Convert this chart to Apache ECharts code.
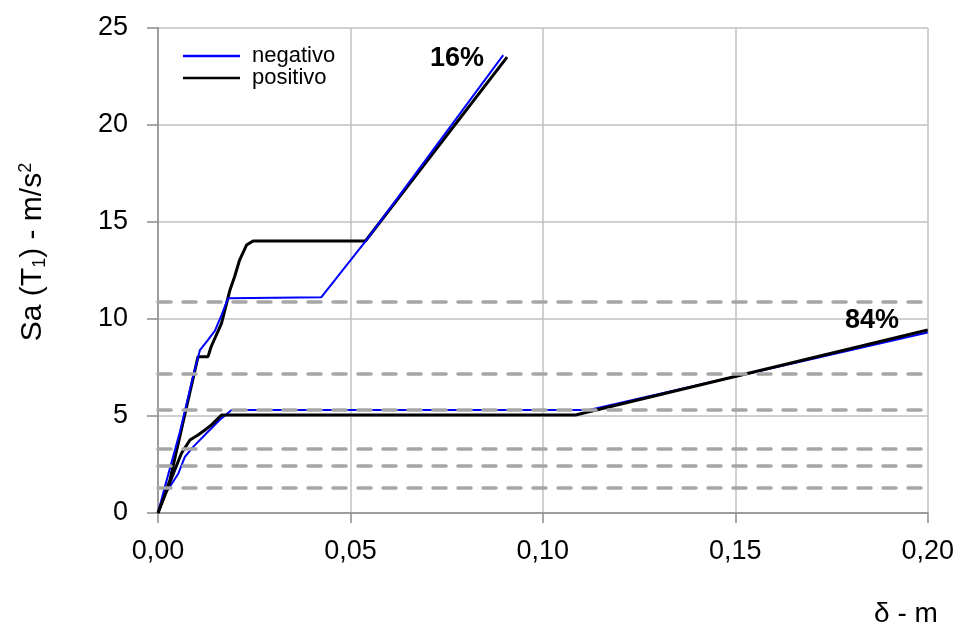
<!DOCTYPE html>
<html>
<head>
<meta charset="utf-8">
<script src="https://cdn.jsdelivr.net/npm/echarts@6/dist/echarts.min.js"></script>
<style>html,body{margin:0;padding:0;background:#fff;}#c{width:957px;height:633px;}</style>
</head>
<body>
<div id="c"></div>
<script>
// ---- data ----
const xTicks = [0, 0.05, 0.10, 0.15, 0.20];
const yTicks = [0, 5, 10, 15, 20, 25];

const neg16X = [0, 0.0018, 0.0057, 0.0091, 0.0109, 0.0130, 0.0148, 0.0165, 0.0182, 0.0424, 0.0539, 0.0897];
const neg16Y = [0, 1.36, 4.19, 7.03, 8.40, 8.92, 9.40, 10.20, 11.07, 11.12, 14.00, 23.60];

const pos16X = [0, 0.0031, 0.0104, 0.0130, 0.0138, 0.0165, 0.0187, 0.0199, 0.0212, 0.0230, 0.0247, 0.0539, 0.0907];
const pos16Y = [0, 1.70, 8.06, 8.06, 8.57, 9.78, 11.50, 12.18, 13.04, 13.81, 14.02, 14.02, 23.50];

const neg84X = [0, 0.0014, 0.0053, 0.0070, 0.0092, 0.0126, 0.0160, 0.0191, 0.1120, 0.2000];
const neg84Y = [0, 0.84, 2.04, 2.90, 3.42, 4.11, 4.79, 5.31, 5.31, 9.30];

const pos84X = [0, 0.0040, 0.0061, 0.0083, 0.0104, 0.0122, 0.0139, 0.0165, 0.1085, 0.2000];
const pos84Y = [0, 2.04, 3.08, 3.76, 4.02, 4.28, 4.54, 5.05, 5.05, 9.43];

const dashedLevels = [10.88, 7.20, 5.30, 3.30, 2.42, 1.28];

const annotX = [0.0777, 0.1855];
const annotY = [23.4, 9.9];
const annotText = ['16%', '84%'];

// ---- chart ----
const zip = (xs, ys) => xs.map((x, i) => [x, ys[i]]);
const font = "'Liberation Sans', Arial, sans-serif";

const chart = echarts.init(document.getElementById('c'), null, {renderer: 'canvas'});
chart.setOption({
  animation: false,
  backgroundColor: '#fff',
  grid: {left: 158, right: 27, top: 28, bottom: 120, containLabel: false},
  xAxis: {
    type: 'value', min: 0, max: 0.20, interval: 0.05,
    axisLine: {lineStyle: {color: '#8c8c8c', width: 1.5}},
    axisTick: {show: true, length: 10, lineStyle: {color: '#8c8c8c', width: 1.5}},
    axisLabel: {margin: 25, fontFamily: font, fontSize: 27, color: '#000',
      formatter: v => v.toFixed(2).replace('.', ',')},
    splitLine: {show: true, lineStyle: {color: '#c0c0c0', width: 1.5}}
  },
  yAxis: {
    type: 'value', min: 0, max: 25, interval: 5,
    axisLine: {show: true, lineStyle: {color: '#8c8c8c', width: 1.5}},
    axisTick: {show: true, length: 11, lineStyle: {color: '#8c8c8c', width: 1.5}},
    axisLabel: {margin: 30, fontFamily: font, fontSize: 27, color: '#000'},
    splitLine: {show: true, lineStyle: {color: '#c0c0c0', width: 1.5}}
  },
  legend: {
    orient: 'vertical', left: 178, top: 40, itemWidth: 57, itemHeight: 2.5, itemGap: 0,
    data: [
      {name: 'negativo', icon: 'rect', itemStyle: {color: '#0000ff', borderWidth: 0}},
      {name: 'positivo', icon: 'rect', itemStyle: {color: '#000000', borderWidth: 0}}
    ],
    textStyle: {fontFamily: font, fontSize: 22, color: '#000', lineHeight: 22, padding: [0, 0, 0, 7]}
  },
  series: [
    {
      name: 'dashed', type: 'line', data: [], silent: true, symbol: 'none',
      markLine: {
        silent: true, symbol: 'none', label: {show: false},
        lineStyle: {color: '#a6a6a6', width: 3.5, type: [13, 12], cap: 'round'},
        data: dashedLevels.map(v => ({yAxis: v}))
      }
    },
    {name: 'negativo', type: 'line', data: zip(neg84X, neg84Y), symbol: 'none',
      lineStyle: {color: '#0000ff', width: 2}, itemStyle: {color: '#0000ff'}},
    {name: 'positivo', type: 'line', data: zip(pos16X, pos16Y), symbol: 'none',
      lineStyle: {color: '#000', width: 3}, itemStyle: {color: '#000'}},
    {name: 'negativo', type: 'line', data: zip(neg16X, neg16Y), symbol: 'none',
      lineStyle: {color: '#0000ff', width: 2}, itemStyle: {color: '#0000ff'}},
    {name: 'positivo', type: 'line', data: zip(pos84X, pos84Y), symbol: 'none',
      lineStyle: {color: '#000', width: 3}, itemStyle: {color: '#000'}},
    {
      name: 'annot', type: 'scatter', symbolSize: 0, silent: true,
      itemStyle: {color: '#000', opacity: 1},
      data: annotX.map((x, i) => [x, annotY[i], annotText[i]]),
      label: {show: true, position: [0, 0], align: 'center', verticalAlign: 'middle',
        formatter: p => p.value[2],
        fontFamily: font, fontWeight: 'bold', fontSize: 27, color: '#000'}
    }
  ],
  graphic: [
    {
      type: 'text', x: 33, y: 252, rotation: Math.PI / 2,
      style: {
        text: 'Sa (T{sub|1}) - m/s{sup|2}', fontFamily: font, fontSize: 30, fill: '#000',
        align: 'center', verticalAlign: 'middle',
        rich: {
          sub: {fontFamily: font, fontSize: 18, fill: '#000', padding: [14, 0, 0, 0]},
          sup: {fontFamily: font, fontSize: 18, fill: '#000', padding: [0, 0, 14, 0]}
        }
      }
    },
    {
      type: 'text', x: 906, y: 614,
      style: {text: 'δ - m', fontFamily: font, fontSize: 28, fill: '#000', align: 'center', verticalAlign: 'middle'}
    }
  ]
});
</script>
</body>
</html>
